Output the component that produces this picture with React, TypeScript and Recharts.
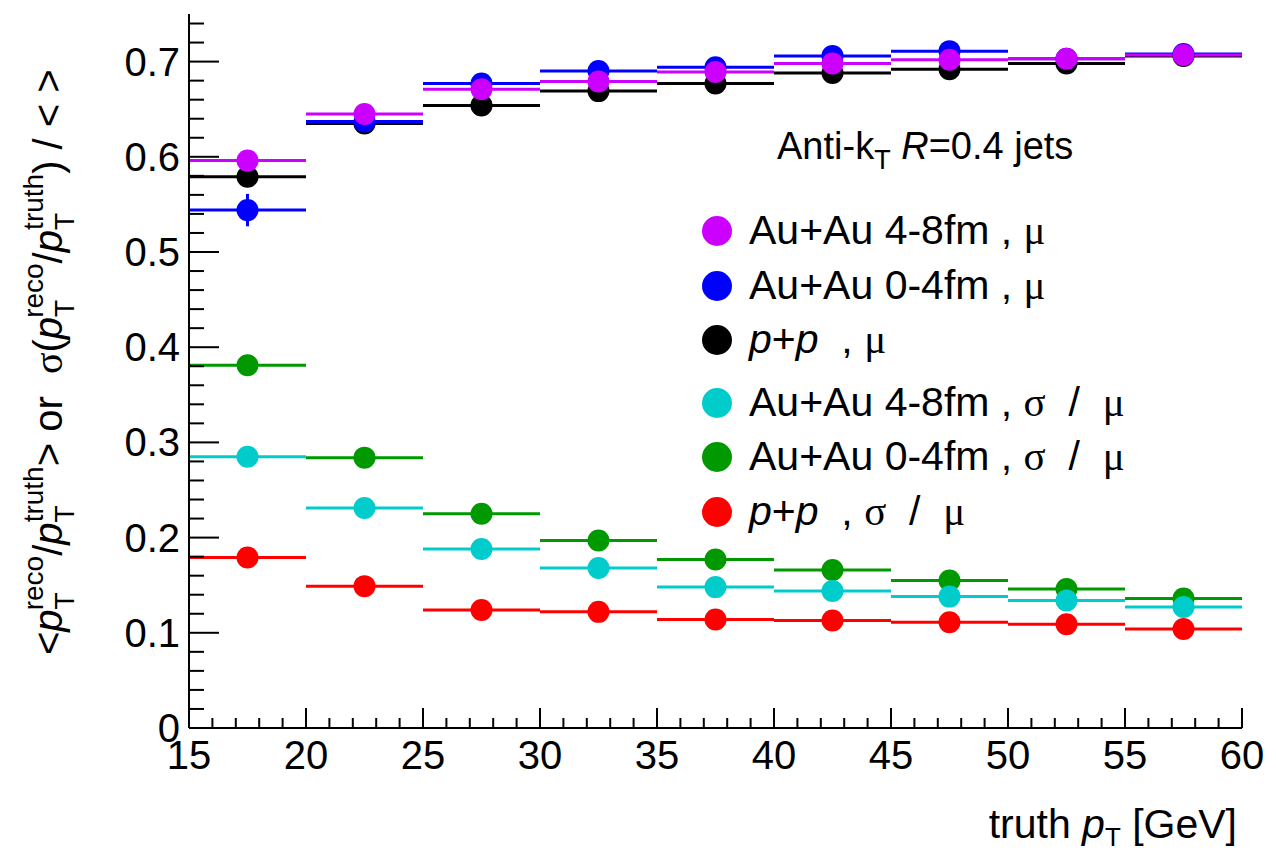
import React from 'react';
import { ComposedChart, Scatter, XAxis, YAxis, ErrorBar } from 'recharts';

// ---------------- data ----------------
const binCenters = [17.5, 22.5, 27.5, 32.5, 37.5, 42.5, 47.5, 52.5, 57.5];
const binHalfWidth = 2.5;

const muAuAu48 = [0.596, 0.645, 0.671, 0.679, 0.689, 0.698, 0.702, 0.703, 0.707];
const muAuAu04 = [0.544, 0.637, 0.677, 0.690, 0.694, 0.706, 0.711, 0.703, 0.708];
const muAuAu04Err = [0.017, 0.004, 0.003, 0.003, 0.003, 0.003, 0.003, 0.003, 0.003];
const muPP = [0.579, 0.635, 0.654, 0.669, 0.677, 0.688, 0.692, 0.698, 0.706];

const resAuAu48 = [0.285, 0.231, 0.188, 0.168, 0.148, 0.144, 0.138, 0.134, 0.127];
const resAuAu04 = [0.381, 0.284, 0.225, 0.197, 0.177, 0.166, 0.155, 0.146, 0.136];
const resPP = [0.179, 0.149, 0.124, 0.122, 0.114, 0.113, 0.111, 0.109, 0.104];

const xMajorTicks = [15, 20, 25, 30, 35, 40, 45, 50, 55, 60];
const yMajorTicks = [0, 0.1, 0.2, 0.3, 0.4, 0.5, 0.6, 0.7];
const yTickLabels = ['0', '0.1', '0.2', '0.3', '0.4', '0.5', '0.6', '0.7'];
const xDomain = [15, 60];
const yDomain = [0, 0.75];

// minor tick positions (axis subdivisions)
const xAllTicks: number[] = [];
for (let v = 15; v <= 60; v += 1) xAllTicks.push(v);
const yAllTicks: number[] = [];
for (let i = 0; i <= 37; i++) yAllTicks.push(Math.round(i * 2) / 100);

// ---------------- styles ----------------
const FONT = "'Liberation Sans', Arial, Helvetica, sans-serif";
const SERIF = "'Liberation Serif', 'Times New Roman', serif";

type Series = { key: string; color: string; values: number[]; yErr?: number[] };

// drawing order (back to front)
const seriesList: Series[] = [
  { key: 'ppMu', color: '#000000', values: muPP },
  { key: 'auau04Mu', color: '#0000ff', values: muAuAu04, yErr: muAuAu04Err },
  { key: 'auau48Mu', color: '#cc00ff', values: muAuAu48 },
  { key: 'ppRes', color: '#ff0000', values: resPP },
  { key: 'auau04Res', color: '#009900', values: resAuAu04 },
  { key: 'auau48Res', color: '#00cccc', values: resAuAu48 },
];

const makeData = (s: Series) =>
  binCenters.map((x, i) => ({
    x,
    y: s.values[i],
    xerr: binHalfWidth,
    yerr: s.yErr ? s.yErr[i] : 0,
  }));

const isXMajor = (v: number) => xMajorTicks.indexOf(v) >= 0;
const yMajorIndex = (v: number) => yMajorTicks.findIndex((t) => Math.abs(t - v) < 1e-6);

const BottomTick = (props: any) => {
  const { x, y, payload } = props;
  const major = isXMajor(payload.value);
  return (
    <g>
      <line x1={x} x2={x} y1={y} y2={y - (major ? 20 : 10)} stroke="#000" strokeWidth={2} />
      {major && (
        <text x={x} y={y + 41} textAnchor="middle" fontSize={40} fontFamily={FONT} fill="#000">
          {payload.value}
        </text>
      )}
    </g>
  );
};

const TopTick = (props: any) => {
  const { x, y, payload } = props;
  const major = isXMajor(payload.value);
  return <line x1={x} x2={x} y1={y} y2={y + (major ? 20 : 10)} stroke="#000" strokeWidth={2} />;
};

const LeftTick = (props: any) => {
  const { x, y, payload } = props;
  const idx = yMajorIndex(payload.value);
  const major = idx >= 0;
  return (
    <g>
      <line x1={x} x2={x + (major ? 30 : 15)} y1={y} y2={y} stroke="#000" strokeWidth={2} />
      {major && (
        <text x={x - 9} y={y + 14} textAnchor="end" fontSize={40} fontFamily={FONT} fill="#000">
          {yTickLabels[idx]}
        </text>
      )}
    </g>
  );
};

const RightTick = (props: any) => {
  const { x, y, payload } = props;
  const major = yMajorIndex(payload.value) >= 0;
  return <line x1={x} x2={x - (major ? 30 : 15)} y1={y} y2={y} stroke="#000" strokeWidth={2} />;
};

const makeShape = (color: string) => (props: any) =>
  <circle cx={props.cx} cy={props.cy} r={11} fill={color} />;

// ---------------- legend ----------------
const Mu = () => <tspan fontFamily={SERIF}>μ</tspan>;
const Sig = () => <tspan fontFamily={SERIF}>σ</tspan>;

const legendEntries: { key: string; label: React.ReactNode }[] = [
  { key: 'auau48Mu', label: <>Au+Au 4-8fm , <Mu /></> },
  { key: 'auau04Mu', label: <>Au+Au 0-4fm , <Mu /></> },
  { key: 'ppMu', label: <><tspan fontStyle="italic">p</tspan>+<tspan fontStyle="italic">p</tspan>  , <Mu /></> },
  { key: 'auau48Res', label: <>Au+Au 4-8fm , <Sig />  /  <Mu /></> },
  { key: 'auau04Res', label: <>Au+Au 0-4fm , <Sig />  /  <Mu /></> },
  { key: 'ppRes', label: <><tspan fontStyle="italic">p</tspan>+<tspan fontStyle="italic">p</tspan>  , <Sig />  /  <Mu /></> },
];
const legendBaselines = [244, 299, 353, 416, 470, 525];

const colorOf = (key: string) => seriesList.find((s) => s.key === key)!.color;

// italic p with subscript T and superscript label stacked, followed by text back on the baseline
const PT = ({ sup, after }: { sup: string; after: string }) => (
  <>
    <tspan fontStyle="italic">p</tspan>
    <tspan fontSize={28} dy={12}>T</tspan>
    <tspan fontSize={28} dx={-17} dy={-31}>{sup}</tspan>
    <tspan dy={19}>{after}</tspan>
  </>
);

export default function App() {
  return (
    <div style={{ position: 'absolute', left: 0, top: 0, width: 1276, height: 853, background: '#fff', fontFamily: FONT }}>
      <ComposedChart width={1276} height={853} margin={{ top: 14, right: 34, bottom: 0, left: 0 }}>
        <XAxis
          xAxisId="b"
          dataKey="x"
          type="number"
          orientation="bottom"
          domain={xDomain}
          ticks={xAllTicks}
          interval={0}
          height={125}
          tickSize={0}
          tickMargin={0}
          tick={<BottomTick />}
          axisLine={{ stroke: '#000', strokeWidth: 2 }}
          allowDataOverflow
        />
        <XAxis
          xAxisId="t"
          dataKey="x"
          type="number"
          orientation="top"
          domain={xDomain}
          ticks={xAllTicks}
          interval={0}
          height={0}
          tickSize={0}
          tickMargin={0}
          tick={<TopTick />}
          axisLine={{ stroke: '#000', strokeWidth: 2 }}
          allowDataOverflow
        />
        <YAxis
          yAxisId="l"
          dataKey="y"
          type="number"
          orientation="left"
          domain={yDomain}
          ticks={yAllTicks}
          interval={0}
          width={189}
          tickSize={0}
          tickMargin={0}
          tick={<LeftTick />}
          axisLine={{ stroke: '#000', strokeWidth: 2 }}
          allowDataOverflow
        />
        <YAxis
          yAxisId="r"
          dataKey="y"
          type="number"
          orientation="right"
          domain={yDomain}
          ticks={yAllTicks}
          interval={0}
          width={0}
          tickSize={0}
          tickMargin={0}
          tick={<RightTick />}
          axisLine={{ stroke: '#000', strokeWidth: 2 }}
          allowDataOverflow
        />
        {seriesList.map((s) => (
          <Scatter
            key={s.key}
            name={s.key}
            data={makeData(s)}
            xAxisId="b"
            yAxisId="l"
            isAnimationActive={false}
            shape={makeShape(s.color)}
          >
            <ErrorBar dataKey="xerr" direction="x" width={0} stroke={s.color} strokeWidth={3} isAnimationActive={false} />
            {s.yErr && (
              <ErrorBar dataKey="yerr" direction="y" width={0} stroke={s.color} strokeWidth={3} isAnimationActive={false} />
            )}
          </Scatter>
        ))}
      </ComposedChart>

      <svg
        width={1276}
        height={853}
        style={{ position: 'absolute', left: 0, top: 0, pointerEvents: 'none' }}
        fontFamily={FONT}
      >
        {/* y axis title */}
        <text transform="translate(62,655) rotate(-90)" fontSize={40} fill="#000" xmlSpace="preserve">
          &lt;<PT sup="reco" after="/" />
          <PT sup="truth" after="> or  " />
          <tspan fontFamily={SERIF}>σ</tspan>(<PT sup="reco" after="/" />
          <PT sup="truth" after=") / < >" />
        </text>

        {/* x axis title */}
        <text x={1237} y={838} textAnchor="end" fontSize={41} fill="#000" xmlSpace="preserve">
          truth <tspan fontStyle="italic">p</tspan>
          <tspan fontSize={26} dy={8}>T</tspan>
          <tspan dy={-8}> [GeV]</tspan>
        </text>

        {/* legend header */}
        <text x={777} y={159} fontSize={38} fill="#000" xmlSpace="preserve">
          Anti-k<tspan fontSize={27} dy={10}>T</tspan>
          <tspan dy={-10} fontStyle="italic"> R</tspan>=0.4 jets
        </text>

        {legendEntries.map((e, i) => (
          <g key={e.key}>
            <circle cx={717} cy={legendBaselines[i] - 13} r={15} fill={colorOf(e.key)} />
            <text x={749} y={legendBaselines[i]} fontSize={41} fill="#000" xmlSpace="preserve">
              {e.label}
            </text>
          </g>
        ))}
      </svg>
    </div>
  );
}
